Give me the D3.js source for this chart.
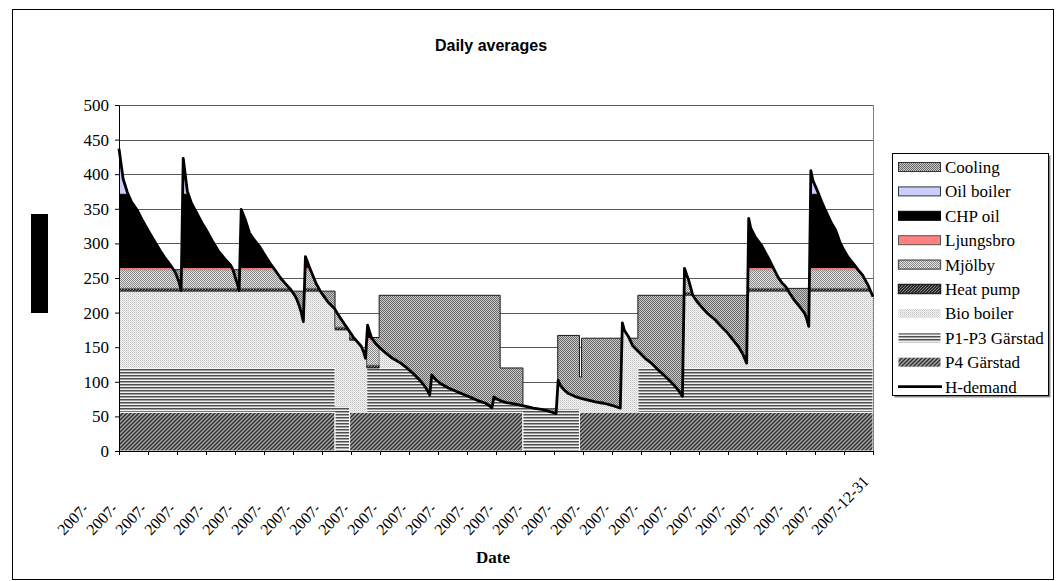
<!DOCTYPE html>
<html><head><meta charset="utf-8">
<script src="https://cdn.jsdelivr.net/npm/d3@7"></script>
<style>
html,body{margin:0;padding:0;background:#fff;}
svg{display:block;}
</style></head>
<body>
<svg id="chart" width="1060" height="581"></svg>
<script>
// ---------------- DATA ----------------
// x-axis category labels (every 14th day of 2007)
const tickDays = [0,14,28,42,56,70,84,98,112,126,140,154,168,182,196,210,224,238,252,266,280,294,308,322,336,350,364];
const tickLabels = ["2007-01-01","2007-01-15","2007-01-29","2007-02-12","2007-02-26","2007-03-12","2007-03-26",
  "2007-04-09","2007-04-23","2007-05-07","2007-05-21","2007-06-04","2007-06-18","2007-07-02","2007-07-16",
  "2007-07-30","2007-08-13","2007-08-27","2007-09-10","2007-09-24","2007-10-08","2007-10-22","2007-11-05",
  "2007-11-19","2007-12-03","2007-12-17","2007-12-31"];
const yTicks = [0,50,100,150,200,250,300,350,400,450,500];

// H-demand: day of year (0 = 2007-01-01) and daily average value
const demandDays = [
  0,1,2,4,6,9,11,14,17,20,22,25,27,28,29,30,
  31,32,33,35,37,40,42,45,48,51,54,55,56,57,58,
  59,61,63,65,68,70,73,75,78,80,83,85,86,87,88,89,
  90,91,92,95,97,99,101,104,106,108,111,113,115,117,118,119,
  120,121,122,124,126,129,132,136,139,142,145,147,149,150,
  151,153,155,159,163,167,171,174,177,179,180,
  181,182,184,187,191,194,197,200,204,207,209,211,
  212,213,215,217,220,223,226,230,234,238,240,242,
  243,244,246,248,251,254,257,260,263,266,268,270,272,
  273,274,275,277,279,281,284,288,291,294,296,299,301,303,
  304,305,307,310,312,314,316,318,320,322,324,326,329,331,332,333,
  334,335,337,339,341,344,346,348,350,352,355,357,359,361,362,364];
const demandValues = [
  437,415,393,374,360,347,335,319,304,289,280,268,259,252,244,232,
  423,399,375,358,347,330,320,304,289,278,268,262,252,243,232,
  349,334,315,306,295,285,271,263,250,243,233,224,218,210,200,187,
  281,273,265,243,232,223,215,206,196,187,174,165,158,151,144,134,
  182,172,163,155,149,141,134,127,120,112,103,96,87,81,
  110,103,98,91,86,81,76,72,69,65,62,
  78,76,73,70,68,66,64,62,60,58,56,54,
  102,95,88,83,79,76,74,71,69,66,64,62,
  185,174,165,152,143,134,127,118,110,101,95,88,79,
  264,255,247,225,216,209,199,189,179,170,162,151,141,127,
  336,322,310,298,287,276,264,252,243,237,227,218,207,199,191,180,
  405,391,377,362,348,329,319,302,290,280,269,261,254,243,237,223];

// Stacked production layers: value of each layer per period (period starts at segStart, ends at next start / day 364)
const segStart      = [0, 59, 104.3, 111.3, 119.6, 125.6, 184, 195, 211.8, 222.3, 223.3, 250.5, 273, 304, 334];
const p4Garstad     = [56, 56,   0,  56,  56,  56,  56,   0,   0,  56,  56,  56,  56,  56,  56];
const p1p3Garstad   = [64, 64,  65,   0,  64,  64,  64, 200,  61,   0,   0,  64,  64,  64,  64];
const bioBoiler     = [111,111,110, 104,   0, 200, 200,   0, 200, 200, 200, 200, 105, 111, 111];
const heatPump      = [4,   4,   4,   4,   4,   0,   0,   0,   0,   0,   0,   0,   4,   4,   4];
const mjolby        = [27, 27, 100, 100,  37,   0,   0,   0,   0,   0,   0,   0, 100,  27,  27];
const ljungsbro     = [3,   3,   0,   0,   3,   0,   0,   0,   0,   0,   0,   0,   0,   3,   3];
const chpOil        = [106,106,  0,   0, 100,   0,   0,   0,   0,   0,   0,   0,   0, 106, 106];
const oilBoiler     = [200,200,  0,   0,   0,   0,   0,   0,   0,   0,   0,   0,   0, 200, 200];
// Cooling: top of the cooling band (fills from H-demand up to this level)
const coolingTop    = [262,231,  0,   0, 164, 225, 120,  61, 167, 107, 163, 225, 225, 235,   0];

const legendNames = ["Cooling","Oil boiler","CHP oil","Ljungsbro","Mjölby","Heat pump","Bio boiler","P1-P3 Gärstad","P4 Gärstad","H-demand"];

// ---------------- CHART ----------------
const svg = d3.select("#chart");
const defs = svg.append("defs");
const SERIF = "'Liberation Serif','Times New Roman',serif";

function pattern(id, w, h, build){
  const p = defs.append("pattern").attr("id", id).attr("width", w).attr("height", h)
    .attr("patternUnits", "userSpaceOnUse");
  build(p);
}
pattern("pP4", 4, 4, p => {
  p.append("rect").attr("width",4).attr("height",4).attr("fill","#a6a6a6");
  p.append("path").attr("d","M-1,1L1,-1M0,4L4,0M3,5L5,3").attr("stroke","#2c2c2c").attr("stroke-width",1.4);
});
pattern("pP13", 3, 3, p => {
  p.append("rect").attr("y",0).attr("width",3).attr("height",1).attr("fill","#4e4e4e");
  p.append("rect").attr("y",1).attr("width",3).attr("height",1).attr("fill","#a0a0a0");
  p.append("rect").attr("y",2).attr("width",3).attr("height",1).attr("fill","#efefef");
});
pattern("pBio", 2, 2, p => {
  p.append("rect").attr("width",2).attr("height",2).attr("fill","#f3f3f3");
  p.append("rect").attr("x",0).attr("y",0).attr("width",1).attr("height",1).attr("fill","#c4c4c4");
  p.append("rect").attr("x",1).attr("y",1).attr("width",1).attr("height",1).attr("fill","#dadada");
});
pattern("pHP", 3, 3, p => {
  p.append("rect").attr("width",3).attr("height",3).attr("fill","#2a2a2a");
  p.append("path").attr("d","M0,3L3,0").attr("stroke","#8a8a8a").attr("stroke-width",1);
});
pattern("pMjol", 2, 2, p => {
  p.append("rect").attr("width",2).attr("height",2).attr("fill","#e4e4e4");
  p.append("rect").attr("x",0).attr("y",0).attr("width",1).attr("height",1).attr("fill","#888");
  p.append("rect").attr("x",1).attr("y",1).attr("width",1).attr("height",1).attr("fill","#888");
});
pattern("pCool", 2, 2, p => {
  p.append("rect").attr("width",2).attr("height",2).attr("fill","#c8c8c8");
  p.append("rect").attr("x",0).attr("y",0).attr("width",1).attr("height",1).attr("fill","#6a6a6a");
  p.append("rect").attr("x",1).attr("y",1).attr("width",1).attr("height",1).attr("fill","#6a6a6a");
});

const layers = [
  {key:"P4",    values:p4Garstad,   fill:"url(#pP4)",  stroke:"#ffffff", sw:1},
  {key:"P13",   values:p1p3Garstad, fill:"url(#pP13)", stroke:"#ffffff", sw:1},
  {key:"Bio",   values:bioBoiler,   fill:"url(#pBio)", stroke:"none",    sw:0},
  {key:"HP",    values:heatPump,    fill:"url(#pHP)",  stroke:"#111",    sw:0.8},
  {key:"Mjol",  values:mjolby,      fill:"url(#pMjol)",stroke:"#666",    sw:0.8},
  {key:"Ljung", values:ljungsbro,   fill:"#ff8080",    stroke:"none",    sw:0},
  {key:"CHP",   values:chpOil,      fill:"#000000",    stroke:"#000",    sw:1},
  {key:"Oil",   values:oilBoiler,   fill:"#ccccff",    stroke:"#000",    sw:1}
];

const x = d3.scaleLinear().domain([0,364]).range([119,873]);
const y = d3.scaleLinear().domain([0,500]).range([451,105]);

// outer border
svg.append("rect").attr("x",12.5).attr("y",9.5).attr("width",1041).attr("height",570)
  .attr("fill","#fff").attr("stroke","#000").attr("stroke-width",1);

// title
svg.append("text").attr("x",491).attr("y",51).attr("text-anchor","middle")
  .attr("font-family","'Liberation Sans',Arial,sans-serif").attr("font-weight","bold").attr("font-size",16)
  .text("Daily averages");

// y-axis title block (black)
svg.append("rect").attr("x",31).attr("y",214).attr("width",17).attr("height",99).attr("fill","#000");

// gridlines
svg.append("g").selectAll("line").data(yTicks.filter(v=>v>0)).join("line")
  .attr("x1",x(0)).attr("x2",x(364)).attr("y1",d=>Math.round(y(d))+0.5).attr("y2",d=>Math.round(y(d))+0.5)
  .attr("stroke","#5a5a5a").attr("stroke-width",1);
svg.append("line").attr("x1",x(364)+0.5).attr("x2",x(364)+0.5).attr("y1",y(500)).attr("y2",y(0))
  .attr("stroke","#808080");

// clip paths from demand line
const demandPts = demandDays.map((d,i)=>[d, demandValues[i]]);
defs.append("clipPath").attr("id","belowDemand").append("path")
  .attr("d", d3.area().x(d=>x(d[0])).y0(y(0)).y1(d=>y(d[1]))(demandPts));
defs.append("clipPath").attr("id","aboveDemand").append("path")
  .attr("d", d3.area().x(d=>x(d[0])).y0(d=>y(d[1])).y1(y(500))(demandPts));

// stacked rows
const rows = [];
segStart.forEach((s,j)=>{
  const e = j+1 < segStart.length ? segStart[j+1] : 364;
  [s,e].forEach(day=>{
    const r = {day};
    layers.forEach(l=>{ r[l.key] = l.values[j]; });
    r.cool = coolingTop[j];
    rows.push(r);
  });
});
const stacked = d3.stack().keys(layers.map(l=>l.key))(rows);
const bandArea = d3.area().x(d=>x(d.data.day)).y0(d=>y(d[0])).y1(d=>y(d[1])).defined(d=>d[1]-d[0]>0.001);

const prodG = svg.append("g").attr("clip-path","url(#belowDemand)");
stacked.forEach((s,i)=>{
  prodG.append("path").attr("d", bandArea(s)).attr("fill", layers[i].fill)
    .attr("stroke", layers[i].stroke).attr("stroke-width", layers[i].sw);
});

// cooling band above demand
const coolArea = d3.area().x(d=>x(d.day)).y0(y(0)).y1(d=>y(d.cool)).defined(d=>d.cool>0);
svg.append("g").attr("clip-path","url(#aboveDemand)")
  .append("path").attr("d", coolArea(rows)).attr("fill","url(#pCool)")
  .attr("stroke","#1a1a1a").attr("stroke-width",1);

// demand line
svg.append("path").attr("d", d3.line().x(d=>x(d[0])).y(d=>y(d[1]))(demandPts))
  .attr("fill","none").attr("stroke","#000").attr("stroke-width",2.8).attr("stroke-linejoin","round");

// axes
const yAxis = svg.append("g").attr("transform",`translate(${x(0)},0)`)
  .call(d3.axisLeft(y).tickValues(yTicks).tickSize(4).tickSizeOuter(0).tickPadding(6));
yAxis.selectAll("text").attr("font-family",SERIF).attr("font-size",17).attr("fill","#000");
yAxis.selectAll("line,path").attr("stroke","#000");

const xAxis = svg.append("g").attr("transform",`translate(0,${y(0)})`)
  .call(d3.axisBottom(x).tickValues(tickDays).tickSize(4).tickSizeOuter(0).tickFormat(""));
xAxis.selectAll("line,path").attr("stroke","#000");

// rotated date labels (truncated display like the original)
defs.append("clipPath").attr("id","lblClip").attr("clipPathUnits","userSpaceOnUse")
  .append("rect").attr("x",-4).attr("y",-16).attr("width",40).attr("height",22);
const lblG = svg.append("g");
tickDays.forEach((d,i)=>{
  const g = lblG.append("g").attr("transform",`translate(${x(d)-55},536) rotate(-46)`);
  const t = g.append("text").attr("x",0).attr("y",0).attr("font-family",SERIF).attr("font-size",16)
    .attr("fill","#000").text(tickLabels[i]);
  if (i < tickDays.length-1) t.attr("clip-path","url(#lblClip)");
});

svg.append("text").attr("x",493).attr("y",563).attr("text-anchor","middle")
  .attr("font-family",SERIF).attr("font-weight","bold").attr("font-size",17).text("Date");

// legend
const lg = svg.append("g");
lg.append("rect").attr("x",894.5).attr("y",155.5).attr("width",156).attr("height",242).attr("fill","#8a8a8a");
lg.append("rect").attr("x",892.5).attr("y",153.5).attr("width",156).attr("height",242)
  .attr("fill","#fff").attr("stroke","#000");
const legendStyle = [
  {fill:"url(#pCool)", stroke:"#333", sw:1},
  {fill:"#ccccff", stroke:"#333", sw:1},
  {fill:"#000", stroke:"#000", sw:1},
  {fill:"#ff8080", stroke:"#555", sw:1},
  {fill:"url(#pMjol)", stroke:"#555", sw:1.3},
  {fill:"url(#pHP)", stroke:"#222", sw:1.5},
  {fill:"url(#pBio)", stroke:"none", sw:0},
  {fill:"url(#pP13)", stroke:"none", sw:0},
  {fill:"url(#pP4)", stroke:"none", sw:0},
  {line:true}
];
legendNames.forEach((name,i)=>{
  const cy = 167 + i*24.4;
  const st = legendStyle[i];
  if (st.line) {
    lg.append("line").attr("x1",898).attr("x2",942).attr("y1",cy).attr("y2",cy)
      .attr("stroke","#000").attr("stroke-width",2.8);
  } else {
    lg.append("rect").attr("x",898.5).attr("y",cy-4.5).attr("width",42).attr("height",9)
      .attr("fill",st.fill).attr("stroke",st.stroke).attr("stroke-width",st.sw);
  }
  lg.append("text").attr("x",945).attr("y",cy+6).attr("font-family",SERIF).attr("font-size",17)
    .attr("fill","#000").text(name);
});
</script>
</body></html>
